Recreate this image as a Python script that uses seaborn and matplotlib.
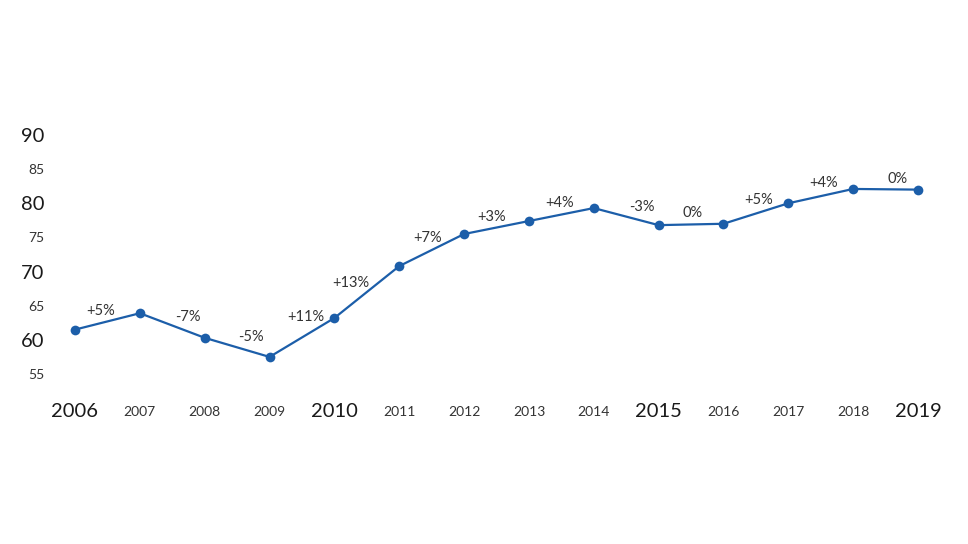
import matplotlib
matplotlib.use("Agg")
import matplotlib.pyplot as plt
import seaborn as sns
import numpy as np
import pandas as pd

years = [2006, 2007, 2008, 2009, 2010, 2011, 2012, 2013, 2014, 2015, 2016, 2017, 2018, 2019]
values = [61.5, 63.9, 60.3, 57.5, 63.2, 70.8, 75.5, 77.4, 79.3, 76.8, 77.0, 80.0, 82.1, 82.0]
change_labels = ["+5%", "-7%", "-5%", "+11%", "+13%", "+7%", "+3%", "+4%", "-3%", "0%", "+5%", "+4%", "0%"]
y_ticks = [55, 60, 65, 70, 75, 80, 85, 90]
big_years = [2006, 2010, 2015, 2019]
big_y = [60, 70, 80, 90]

# label placement nudges (pixels, relative to segment midpoint; x right, y down)
label_nudge = [(-7, -10), (16, -9), (14, -10), (4, -20), (-16, -9), (-4, -12), (-5, -11),
               (-2, -12), (16, -10), (2, -11), (3, -14), (3, -13), (12, -10)]

sns.set_theme(style="white")
plt.rcParams['font.family'] = ['Lato', 'DejaVu Sans']

W, H = 968, 544
fig = plt.figure(figsize=(W / 100, H / 100), dpi=100)
fig.patch.set_facecolor("white")
left_px, right_px = 75, 918
top_px, bot_px = 135, 374
ax = fig.add_axes([left_px / W, (H - bot_px) / H, (right_px - left_px) / W, (bot_px - top_px) / H])

df = pd.DataFrame({"year": years, "value": values})
color = "#1c5ea9"
sns.lineplot(data=df, x="year", y="value", ax=ax, color=color, linewidth=1.6,
             marker="o", markersize=7, markeredgewidth=0)
for ln in ax.lines:
    ln.set_clip_on(False)

ax.set_xlim(2006, 2019)
ax.set_ylim(55, 90)
for s in ax.spines.values():
    s.set_visible(False)
ax.set_xlabel("")
ax.set_ylabel("")
ax.grid(False)

ax.set_xticks(years)
ax.set_xticklabels([str(y) for y in years])
for lab, y in zip(ax.get_xticklabels(), years):
    lab.set_fontsize(14.5 if y in big_years else 10)
    lab.set_color("#1a1a1a" if y in big_years else "#333333")
    lab.set_va("center")
ax.tick_params(axis="x", length=0, pad=27)

ax.set_yticks(y_ticks)
ax.set_yticklabels([str(v) for v in y_ticks])
for lab, v in zip(ax.get_yticklabels(), y_ticks):
    lab.set_fontsize(14.5 if v in big_y else 10)
    lab.set_color("#1a1a1a" if v in big_y else "#333333")
ax.tick_params(axis="y", length=0, pad=22)

# change labels at segment midpoints
fig.canvas.draw()
trans = ax.transData
for i, txt in enumerate(change_labels):
    p1 = trans.transform((years[i], values[i]))
    p2 = trans.transform((years[i + 1], values[i + 1]))
    mid = (p1 + p2) / 2
    dx, dy = label_nudge[i]
    ax.annotate(txt, xy=(mid[0], mid[1]), xycoords="figure pixels",
                xytext=(dx * 0.72, -dy * 0.72), textcoords="offset points",
                ha="center", va="center", fontsize=10.5, color="#333333")

fig.savefig("out.png", dpi=100, facecolor="white")
